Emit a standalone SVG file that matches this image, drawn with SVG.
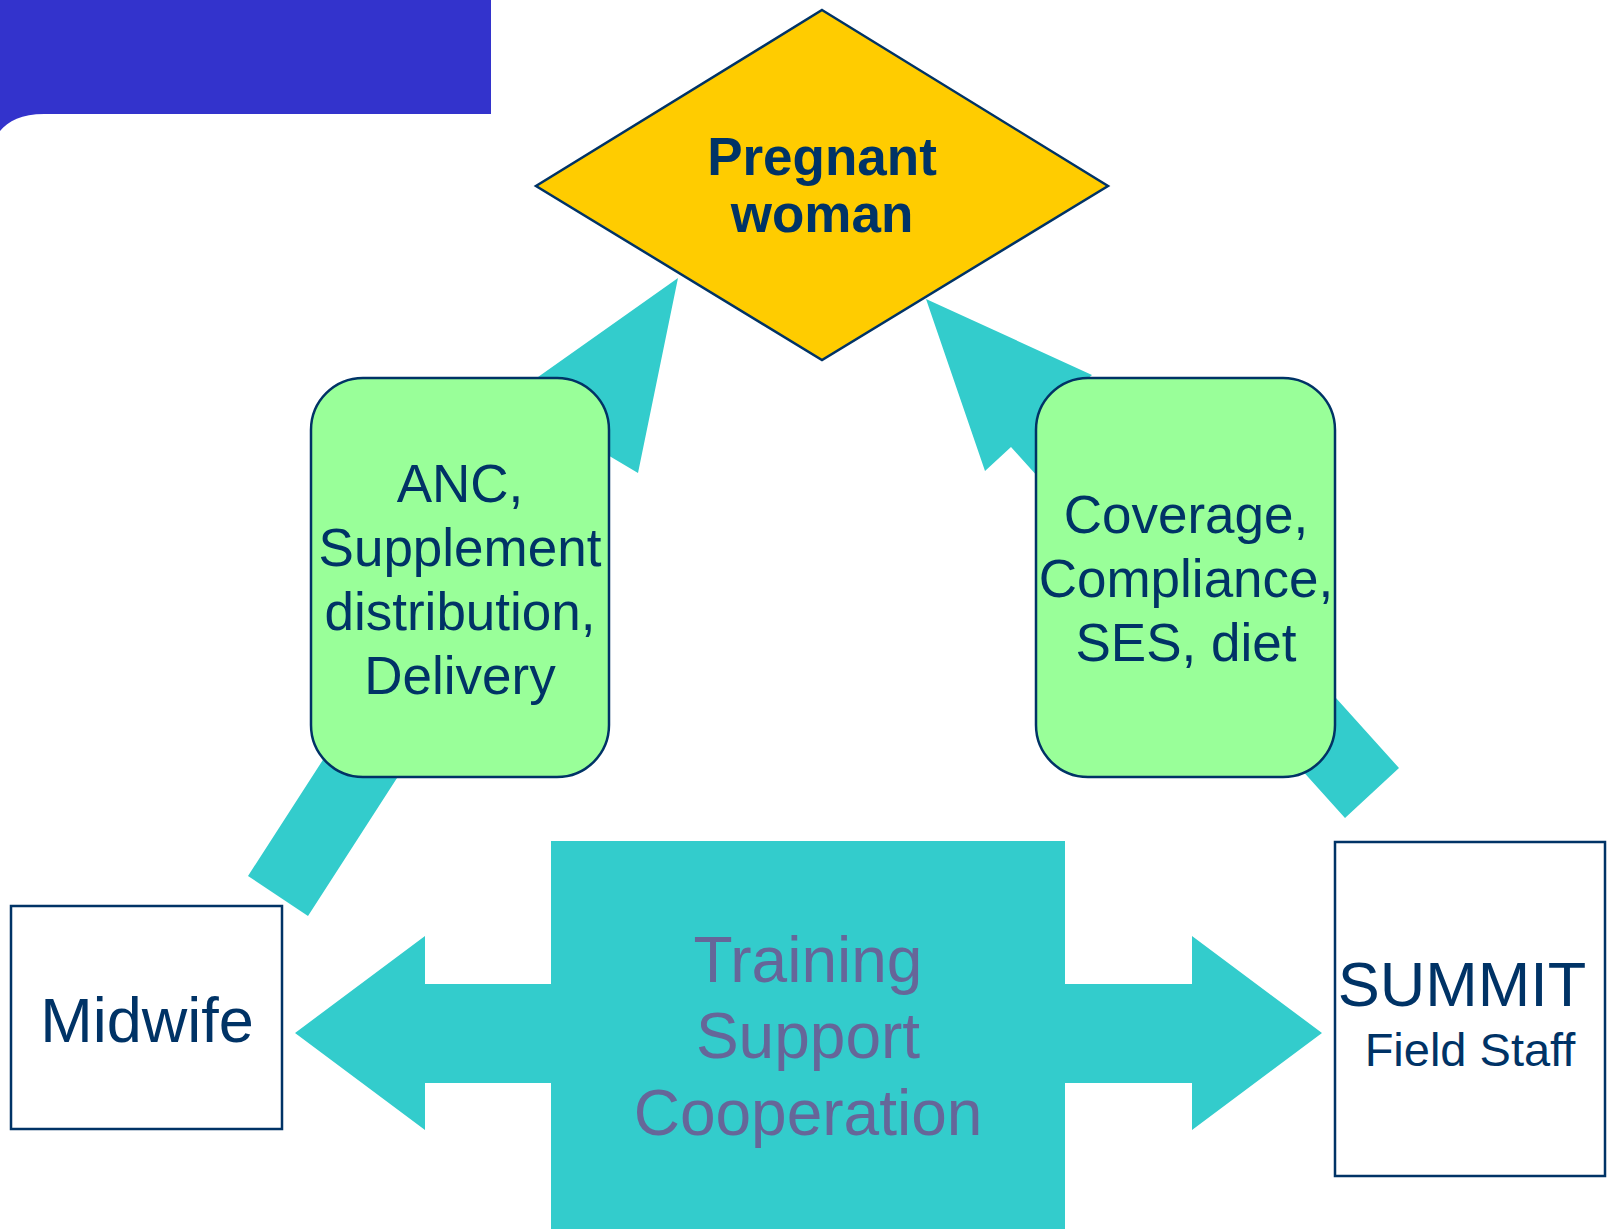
<svg xmlns="http://www.w3.org/2000/svg" width="1614" height="1229" viewBox="0 0 1614 1229">
  <style>
    .lbl { font-family: "Liberation Sans", Arial, sans-serif; fill: #003366; text-anchor: middle; }
    .flow { fill: #33CCCC; stroke: none; }
    .note { fill: #99FF99; stroke: #003366; stroke-width: 2.5; }
    .box { fill: #FFFFFF; stroke: #003366; stroke-width: 2.5; }
    .mid { font-family: "Liberation Sans", Arial, sans-serif; fill: #666699; text-anchor: middle; font-size: 64px; }
  </style>
  <rect width="1614" height="1229" fill="#FFFFFF"/>

  <!-- title banner with rounded lower-left corner -->
  <path d="M0,0 H491 V114 H44 C22,114 8,121 0,131 Z" fill="#3333CC"/>

  <!-- connectors -->
  <g id="connectors">
    <!-- midwife to pregnant woman -->
    <polygon class="flow" points="678,278 638,473 606,454 308,916 248,876 546,414 514,394"/>
    <!-- field staff to pregnant woman -->
    <polygon class="flow" points="926,299 985,471 1011,447 1345,818 1399,768 1066,398 1092,375"/>
    <!-- two-way arrow between midwife and field staff -->
    <polygon class="flow" points="295,1033 425,936 425,984 551,984 551,1083 425,1083 425,1130"/>
    <polygon class="flow" points="1322,1033 1192,936 1192,984 1065,984 1065,1083 1192,1083 1192,1130"/>
  </g>

  <g id="pregnant-woman">
    <polygon points="822,10 1108,186 822,360 536,186" fill="#FFCC00" stroke="#003366" stroke-width="2.5"/>
    <text class="lbl" x="822" y="175" font-size="53" font-weight="bold">Pregnant</text>
    <text class="lbl" x="822" y="232" font-size="53" font-weight="bold">woman</text>
  </g>

  <g id="midwife-services">
    <rect class="note" x="311" y="378" width="298" height="399" rx="52" ry="52"/>
    <text class="lbl" font-size="53" x="460" y="502">ANC,</text>
    <text class="lbl" font-size="53" x="460" y="566">Supplement</text>
    <text class="lbl" font-size="53" x="460" y="630">distribution,</text>
    <text class="lbl" font-size="53" x="460" y="694">Delivery</text>
  </g>

  <g id="field-data">
    <rect class="note" x="1036" y="378" width="299" height="399" rx="52" ry="52"/>
    <text class="lbl" font-size="53" x="1186" y="533">Coverage,</text>
    <text class="lbl" font-size="53" x="1186" y="597">Compliance,</text>
    <text class="lbl" font-size="53" x="1186" y="661">SES, diet</text>
  </g>

  <g id="midwife">
    <rect class="box" x="11" y="906" width="271" height="223"/>
    <text class="lbl" x="147" y="1042" font-size="63">Midwife</text>
  </g>

  <g id="summit-field-staff">
    <rect class="box" x="1335" y="842" width="270" height="334"/>
    <text class="lbl" x="1462" y="1006" font-size="63">SUMMIT</text>
    <text class="lbl" x="1470" y="1066" font-size="47">Field Staff</text>
  </g>

  <g id="training-support">
    <rect class="flow" x="551" y="841" width="514" height="388"/>
    <text class="mid" x="808" y="982">Training</text>
    <text class="mid" x="808" y="1058">Support</text>
    <text class="mid" x="808" y="1135">Cooperation</text>
  </g>
</svg>
